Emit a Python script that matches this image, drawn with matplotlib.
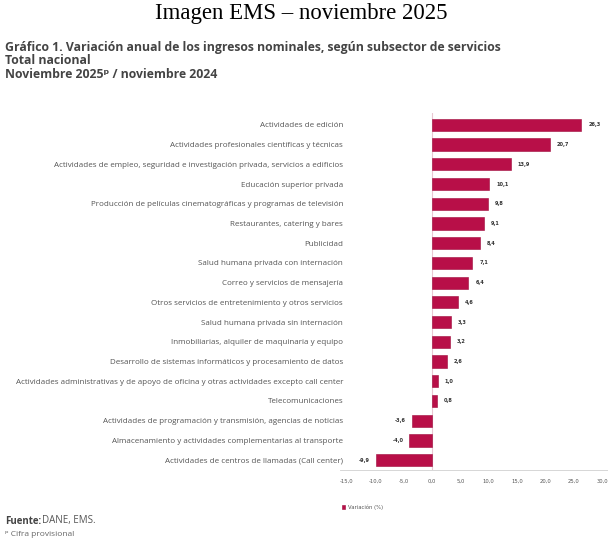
import matplotlib
matplotlib.use("Agg")
import matplotlib.pyplot as plt
from matplotlib.ticker import FixedLocator, FuncFormatter

categories = [
    "Actividades de edición",
    "Actividades profesionales científicas y técnicas",
    "Actividades de empleo, seguridad e investigación privada, servicios a edificios",
    "Educación superior privada",
    "Producción de películas cinematográficas y programas de televisión",
    "Restaurantes, catering y bares",
    "Publicidad",
    "Salud humana privada con internación",
    "Correo y servicios de mensajería",
    "Otros servicios de entretenimiento y otros servicios",
    "Salud humana privada sin internación",
    "Inmobiliarias, alquiler de maquinaria y equipo",
    "Desarrollo de sistemas informáticos y procesamiento de datos",
    "Actividades administrativas y de apoyo de oficina y otras actividades excepto call center",
    "Telecomunicaciones",
    "Actividades de programación y transmisión, agencias de noticias",
    "Almacenamiento y actividades complementarias al transporte",
    "Actividades de centros de llamadas (Call center)",
]
values = [26.3, 20.7, 13.9, 10.1, 9.8, 9.1, 8.4, 7.1, 6.4, 4.6, 3.3, 3.2,
          2.6, 1.0, 0.8, -3.6, -4.0, -9.9]
xticks = [-15, -10, -5, 0, 5, 10, 15, 20, 25, 30]
legend_label = "Variación (%)"

W, H = 608, 542
fig = plt.figure(figsize=(W / 100, H / 100), dpi=100)
fig.patch.set_facecolor("white")

bar_color = "#B80F48"
text_gray = "#555555"
fam = ["Open Sans", "DejaVu Sans"]

def fx(px):
    return px / W

def fy(py):
    return 1 - py / H

# Header
fig.text(fx(301), fy(13), "Imagen EMS – noviembre 2025", ha="center", va="center",
         family="Liberation Serif", fontsize=16.4, color="black")
sub_kw = dict(ha="left", va="center", fontsize=8.8, fontweight="bold",
              color="#444444", family=fam)
fig.text(fx(5), fy(47), "Gráfico 1. Variación anual de los ingresos nominales, según subsector de servicios", **sub_kw)
fig.text(fx(5), fy(61), "Total nacional", **sub_kw)
fig.text(fx(5), fy(75), "Noviembre 2025ᵖ / noviembre 2024", **sub_kw)

# Axes
ax_left, ax_right, ax_top, ax_bot = 340, 608, 113, 470
ax = fig.add_axes([fx(ax_left), fy(ax_bot), (ax_right - ax_left) / W, (ax_bot - ax_top) / H])
ypos = list(range(len(categories)))
ax.barh(ypos, values, height=0.62, color=bar_color, edgecolor="#9E0A3C", linewidth=0.4,
        zorder=3, label=legend_label)
ax.set_xlim(-16.2, 31.0)
ax.set_ylim(len(categories) - 0.5, -0.6)
ax.axvline(0, color="#E8C8D2", linewidth=0.8, zorder=2)

ax.set_yticks(ypos)
ax.set_yticklabels(categories, fontsize=5.8, color=text_gray, family=fam)
ax.tick_params(axis="y", length=0, pad=-2.2)

ax.xaxis.set_major_locator(FixedLocator(xticks))
ax.xaxis.set_major_formatter(FuncFormatter(lambda v, p: f"{v:.1f}".replace(".", ",")))
ax.tick_params(axis="x", length=0, labelsize=3.8, labelcolor=text_gray, pad=6)

for s in ["top", "right", "left"]:
    ax.spines[s].set_visible(False)
ax.spines["bottom"].set_color("#D0D0D0")
ax.spines["bottom"].set_linewidth(0.6)

for y, v in zip(ypos, values):
    lab = f"{v:.1f}".replace(".", ",")
    if v >= 0:
        ax.annotate(lab, (v, y), xytext=(5, 0), textcoords="offset points",
                    ha="left", va="center", fontsize=3.6, fontweight="bold", color="#333333")
    else:
        ax.annotate(lab, (v, y), xytext=(-4, 0), textcoords="offset points",
                    ha="right", va="center", fontsize=3.6, fontweight="bold", color="#333333")

# Legend
fig.legend(*ax.get_legend_handles_labels(), loc="center left",
           bbox_to_anchor=(fx(337), fy(507)), frameon=False, fontsize=3.8,
           handlelength=0.6, handleheight=0.6, handletextpad=0.6, labelcolor=text_gray)

# Footer
fig.text(fx(5), fy(521), "Fuente:", ha="left", va="center", fontsize=7, fontweight="bold",
         color="#444444", family=fam)
fig.text(fx(42), fy(521), "DANE, EMS.", ha="left", va="center", fontsize=7,
         color="#555555", family=fam)
fig.text(fx(5), fy(535), "ᵖ Cifra provisional", ha="left", va="center", fontsize=6,
         color="#666666", family=fam)

fig.savefig("out.png", dpi=100, facecolor="white")
